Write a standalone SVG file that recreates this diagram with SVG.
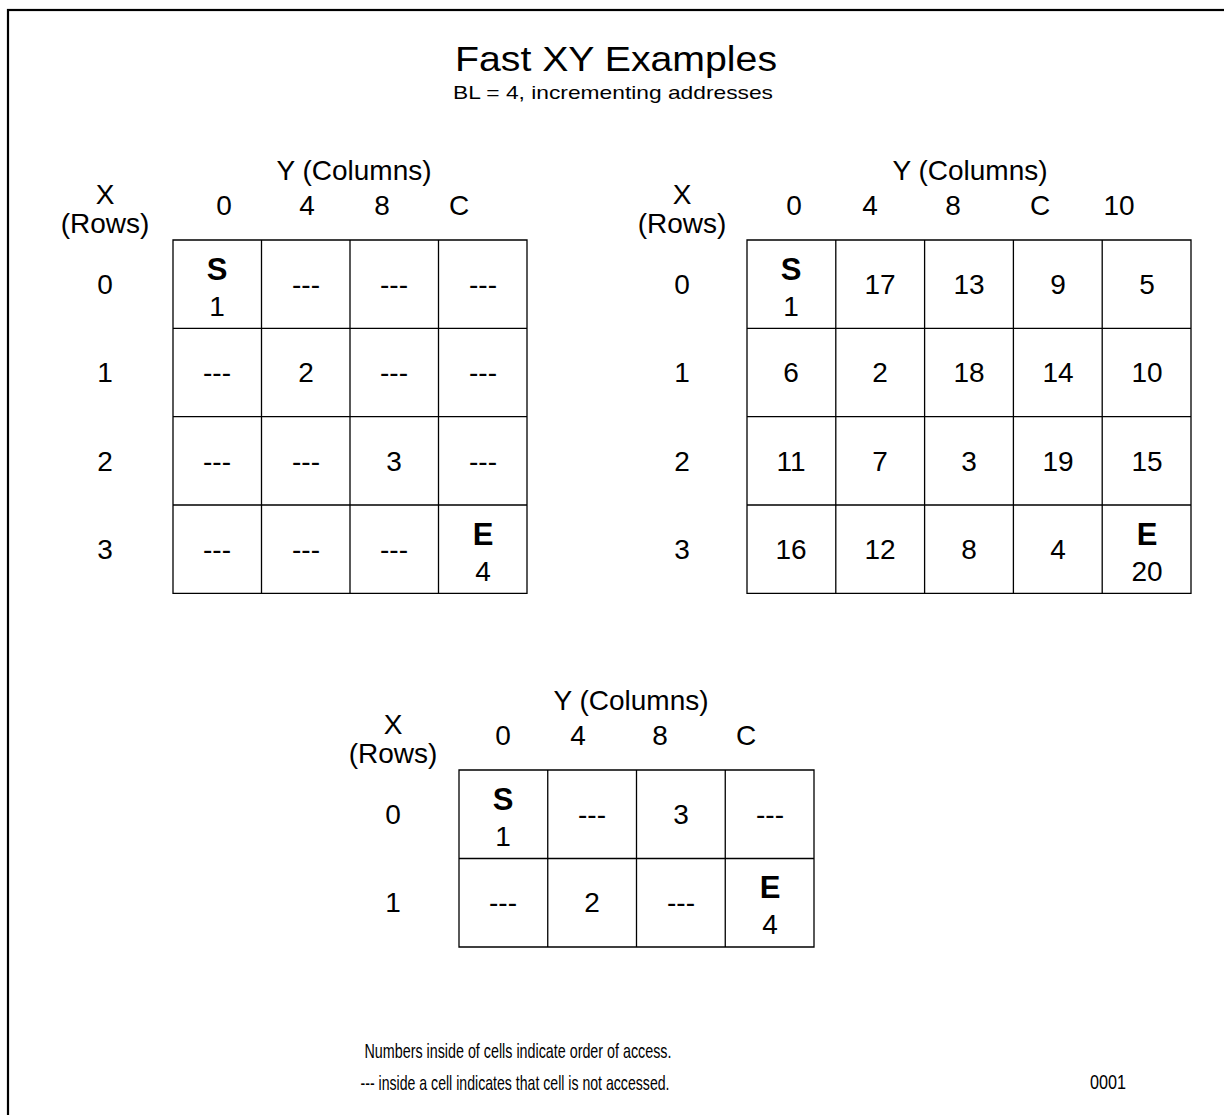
<svg xmlns="http://www.w3.org/2000/svg" width="1224" height="1115" viewBox="0 0 1224 1115">
<style>
text{font-family:"Liberation Sans",Arial,sans-serif;fill:#000;text-anchor:middle}
.t{font-size:28px}
.b{font-size:31px;font-weight:bold}
.g{fill:none;stroke:#000;stroke-width:1.3}
.title{font-size:35px}
.sub{font-size:19px}
.foot{font-size:21px}
</style>
<rect x="8" y="10" width="1240" height="1130" fill="#fff" stroke="#000" stroke-width="2.2"/>
<g id="title">
<text class="title" x="616" y="71" textLength="322" lengthAdjust="spacingAndGlyphs">Fast XY Examples</text>
<text class="sub" x="613" y="99" textLength="320" lengthAdjust="spacingAndGlyphs">BL = 4, incrementing addresses</text>
</g>
<g id="grid1">
<text class="t" x="354" y="180">Y (Columns)</text>
<text class="t" x="105" y="204">X</text>
<text class="t" x="105" y="233">(Rows)</text>
<text class="t" x="224" y="215">0</text>
<text class="t" x="307" y="215">4</text>
<text class="t" x="382" y="215">8</text>
<text class="t" x="459" y="215">C</text>
<text class="t" x="105" y="294">0</text>
<text class="t" x="105" y="382">1</text>
<text class="t" x="105" y="471">2</text>
<text class="t" x="105" y="559">3</text>
<path class="g" d="M173,240H527V593.3H173Z M261.5,240V593.3 M350,240V593.3 M438.5,240V593.3 M173,328.3H527 M173,416.7H527 M173,505H527"/>
<text class="b" x="217" y="280">S</text><text class="t" x="217" y="316">1</text>
<text class="t" x="306" y="294">---</text><text class="t" x="394" y="294">---</text><text class="t" x="483" y="294">---</text>
<text class="t" x="217" y="382">---</text><text class="t" x="306" y="382">2</text><text class="t" x="394" y="382">---</text><text class="t" x="483" y="382">---</text>
<text class="t" x="217" y="471">---</text><text class="t" x="306" y="471">---</text><text class="t" x="394" y="471">3</text><text class="t" x="483" y="471">---</text>
<text class="t" x="217" y="559">---</text><text class="t" x="306" y="559">---</text><text class="t" x="394" y="559">---</text>
<text class="b" x="483" y="545">E</text><text class="t" x="483" y="581">4</text>
</g>
<g id="grid2">
<text class="t" x="970" y="180">Y (Columns)</text>
<text class="t" x="682" y="204">X</text>
<text class="t" x="682" y="233">(Rows)</text>
<text class="t" x="794" y="215">0</text>
<text class="t" x="870" y="215">4</text>
<text class="t" x="953" y="215">8</text>
<text class="t" x="1040" y="215">C</text>
<text class="t" x="1119" y="215">10</text>
<text class="t" x="682" y="294">0</text>
<text class="t" x="682" y="382">1</text>
<text class="t" x="682" y="471">2</text>
<text class="t" x="682" y="559">3</text>
<path class="g" d="M747,240H1191V593.3H747Z M835.8,240V593.3 M924.6,240V593.3 M1013.4,240V593.3 M1102.2,240V593.3 M747,328.3H1191 M747,416.7H1191 M747,505H1191"/>
<text class="b" x="791" y="280">S</text><text class="t" x="791" y="316">1</text>
<text class="t" x="880" y="294">17</text><text class="t" x="969" y="294">13</text><text class="t" x="1058" y="294">9</text><text class="t" x="1147" y="294">5</text>
<text class="t" x="791" y="382">6</text><text class="t" x="880" y="382">2</text><text class="t" x="969" y="382">18</text><text class="t" x="1058" y="382">14</text><text class="t" x="1147" y="382">10</text>
<text class="t" x="791" y="471">11</text><text class="t" x="880" y="471">7</text><text class="t" x="969" y="471">3</text><text class="t" x="1058" y="471">19</text><text class="t" x="1147" y="471">15</text>
<text class="t" x="791" y="559">16</text><text class="t" x="880" y="559">12</text><text class="t" x="969" y="559">8</text><text class="t" x="1058" y="559">4</text>
<text class="b" x="1147" y="545">E</text><text class="t" x="1147" y="581">20</text>
</g>
<g id="grid3">
<text class="t" x="631" y="710">Y (Columns)</text>
<text class="t" x="393" y="734">X</text>
<text class="t" x="393" y="763">(Rows)</text>
<text class="t" x="503" y="745">0</text>
<text class="t" x="578" y="745">4</text>
<text class="t" x="660" y="745">8</text>
<text class="t" x="746" y="745">C</text>
<text class="t" x="393" y="824">0</text>
<text class="t" x="393" y="912">1</text>
<path class="g" d="M459,770H814V947H459Z M547.75,770V947 M636.5,770V947 M725.25,770V947 M459,858.5H814"/>
<text class="b" x="503" y="810">S</text><text class="t" x="503" y="846">1</text>
<text class="t" x="592" y="824">---</text><text class="t" x="681" y="824">3</text><text class="t" x="770" y="824">---</text>
<text class="t" x="503" y="912">---</text><text class="t" x="592" y="912">2</text><text class="t" x="681" y="912">---</text>
<text class="b" x="770" y="898">E</text><text class="t" x="770" y="934">4</text>
</g>
<g id="footer">
<text class="foot" x="518" y="1058" textLength="307" lengthAdjust="spacingAndGlyphs">Numbers inside of cells indicate order of access.</text>
<text class="foot" x="515" y="1090" textLength="309" lengthAdjust="spacingAndGlyphs">--- inside a cell indicates that cell is not accessed.</text>
<text class="foot" x="1108" y="1089" textLength="36" lengthAdjust="spacingAndGlyphs">0001</text>
</g>
</svg>
